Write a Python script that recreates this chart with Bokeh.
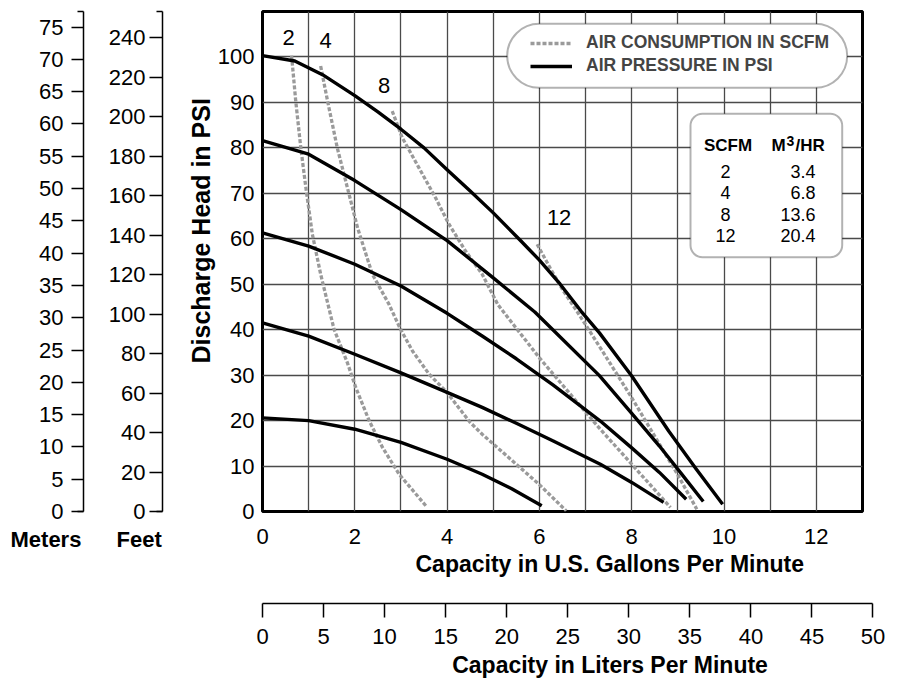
from bokeh.plotting import figure
from bokeh.models import (Range1d, FixedTicker, Label, BoxAnnotation, Legend, LegendItem, Title)
from bokeh.layouts import column, row
from bokeh.embed import file_html
from bokeh.resources import INLINE

# ---------------- data ----------------
gpm_ticks = [0, 2, 4, 6, 8, 10, 12]
gpm_grid = list(range(0, 14))
psi_ticks = list(range(0, 101, 10))
psi_grid = list(range(0, 111, 10))
feet_ticks = list(range(0, 241, 20))
meter_ticks = list(range(0, 76, 5))
lpm_ticks = list(range(0, 51, 5))

# air pressure curves (PSI) : capacity GPM -> discharge head PSI
psi100_x = [0, 0.7, 1.3, 2.0, 2.5, 3.0, 3.5, 4.0, 4.5, 5.0, 5.6, 6.0, 6.45, 6.9, 7.3, 8.0, 8.8, 9.4, 9.97]
psi100_y = [100.3, 99.1, 96.1, 91.5, 87.9, 84.1, 80.0, 75.2, 70.5, 65.7, 59.5, 55.3, 50.0, 44.1, 39.3, 29.8, 17.7, 9.3, 1.6]
psi80_x = [0, 1, 2, 3, 4, 5, 5.9, 7.3, 8.0, 8.6, 9.1, 9.55]
psi80_y = [81.6, 78.6, 72.8, 66.4, 59.6, 51.4, 43.9, 29.9, 21.6, 14.4, 8.0, 2.2]
psi60_x = [0, 1, 2, 3, 4, 4.76, 5.5, 6.3, 7.32, 8.0, 8.6, 9.18]
psi60_y = [61.3, 58.4, 54.4, 49.6, 43.6, 38.6, 33.6, 27.8, 19.9, 14.0, 8.6, 2.7]
psi40_x = [0, 1, 2, 3, 4, 4.76, 5.5, 6.3, 7.32, 8.0, 8.69]
psi40_y = [41.5, 38.6, 34.6, 30.5, 26.2, 22.9, 19.4, 15.5, 10.4, 6.4, 2.0]
psi20_x = [0, 1, 2, 3, 4, 4.76, 5.4, 6.05]
psi20_y = [20.6, 20.0, 18.1, 15.2, 11.5, 8.2, 5.0, 1.25]

# air consumption curves (SCFM)
scfm2_x = [0.63, 0.72, 0.83, 0.94, 1.08, 1.26, 1.55, 1.84, 2.02, 2.31, 2.6, 2.96, 3.54]
scfm2_y = [100.3, 90.3, 80.0, 71.2, 61.0, 52.2, 40.1, 32.7, 27.3, 20.0, 14.1, 8.2, 1.25]
scfm4_x = [1.26, 1.41, 1.62, 1.84, 2.06, 2.38, 2.74, 2.99, 3.25, 3.61, 3.97, 4.5, 4.76, 5.99, 6.58]
scfm4_y = [98.0, 90.3, 80.0, 71.2, 62.4, 52.2, 45.6, 40.1, 35.3, 30.2, 26.5, 19.6, 17.0, 6.0, 0.15]
scfm8_x = [2.81, 3.03, 3.39, 3.75, 4.04, 4.4, 4.76, 5.1, 6.0, 6.98, 7.32, 8.0, 8.84]
scfm8_y = [88.1, 82.2, 75.6, 69.0, 63.2, 57.3, 52.2, 45.5, 33.8, 22.1, 18.1, 10.4, 0.9]
scfm12_x = [5.95, 6.23, 6.52, 6.81, 7.32, 7.99, 8.99, 9.41]
scfm12_y = [58.8, 53.6, 48.5, 44.1, 36.0, 25.2, 8.2, 0.5]

scfm_levels = [2, 4, 8, 12]
m3hr_values = [3.4, 6.8, 13.6, 20.4]

legend_labels = ["AIR CONSUMPTION IN SCFM", "AIR PRESSURE IN PSI"]

# ---------------- style ----------------
FONT = "Liberation Sans"
GREY = "#9a9a9a"
GRID = "#4a4a4a"
TICK_PX = "22px"
FT_TOP = 253.4      # 110 psi expressed in feet
M_TOP = 77.4        # 110 psi expressed in meters

common = dict(output_backend="svg", toolbar_location=None, min_border_top=11, min_border_bottom=79)


def style_axis(ax, tick_out, standoff, line=True):
    ax.axis_line_color = "black" if line else None
    ax.axis_line_width = 1.5
    ax.major_tick_out = tick_out
    ax.major_tick_in = 0
    ax.minor_tick_in = 0
    ax.minor_tick_out = 6
    ax.major_tick_line_width = 1.5
    ax.minor_tick_line_width = 1.5
    ax.major_label_standoff = standoff
    ax.major_label_text_font = FONT
    ax.major_label_text_font_size = TICK_PX
    ax.major_label_text_color = "black"


def side_title(text, offset, standoff, size="22px", valign="top"):
    return Title(text=text, align="left", offset=offset, vertical_align=valign,
                 standoff=standoff, text_font=FONT, text_font_size=size,
                 text_font_style="bold", text_color="black")


def scale_fig(width, border_left, top, ticks, tick_out, standoff, name, offset):
    f = figure(width=width, height=590, x_range=Range1d(0, 1), y_range=Range1d(0, top),
               x_axis_location=None, min_border_left=border_left, min_border_right=0, **common)
    f.outline_line_color = None
    f.grid.visible = False
    ax = f.yaxis[0]
    ax.ticker = FixedTicker(ticks=ticks, minor_ticks=[0, top])
    style_axis(ax, tick_out, standoff)
    f.add_layout(side_title(name, offset, 30), "below")
    return f


figM = scale_fig(100, 83, M_TOP, meter_ticks, 12, 8, "Meters", -73)
figF = scale_fig(70, 62, FT_TOP, feet_ticks, 13, 4, "Feet", -46)

# ---------------- main chart ----------------
p = figure(width=725, height=590, x_range=Range1d(0, 13), y_range=Range1d(0, 110),
           min_border_left=92, min_border_right=33, **common)
p.outline_line_color = "black"
p.outline_line_width = 3
p.xgrid.ticker = FixedTicker(ticks=gpm_grid)
p.ygrid.ticker = FixedTicker(ticks=psi_grid)
for g in (p.xgrid, p.ygrid):
    g.grid_line_color = GRID
    g.grid_line_width = 1.3

xa = p.xaxis[0]
xa.ticker = FixedTicker(ticks=gpm_ticks)
style_axis(xa, 0, 17, line=False)
ya = p.yaxis[0]
ya.ticker = FixedTicker(ticks=psi_ticks)
style_axis(ya, 0, 8, line=False)

p.add_layout(Title(text="Discharge Head in PSI", align="left", offset=148, vertical_align="bottom",
                   standoff=0, text_font=FONT, text_font_size="25px", text_font_style="bold",
                   text_color="black"), "left")
p.add_layout(side_title("Capacity in U.S. Gallons Per Minute", 153, 8, "23px"), "below")

psi_curves = [(psi100_x, psi100_y), (psi80_x, psi80_y), (psi60_x, psi60_y),
              (psi40_x, psi40_y), (psi20_x, psi20_y)]
air_curves = [(scfm2_x, scfm2_y), (scfm4_x, scfm4_y), (scfm8_x, scfm8_y), (scfm12_x, scfm12_y)]

air_r = [p.line(xs, ys, line_color=GREY, line_width=3.3, line_dash="4 2") for xs, ys in air_curves]
psi_r = [p.line(xs, ys, line_color="black", line_width=3.4, line_join="round") for xs, ys in psi_curves]

label_offsets = {2: (-3, 18), 4: (5, 26), 8: (-8, 26), 12: (22, 27)}
for lvl, (xs, ys) in zip(scfm_levels, air_curves):
    dx, dy = label_offsets[lvl]
    p.add_layout(Label(x=xs[0], y=ys[0], x_offset=dx, y_offset=dy, text=str(lvl),
                       text_align="center", text_baseline="middle", text_font=FONT,
                       text_font_size="22px", text_color="black"))

# legend box
p.add_layout(BoxAnnotation(left=244.7, right=584.7, top=487.7, bottom=423.7,
                           left_units="screen", right_units="screen",
                           top_units="screen", bottom_units="screen",
                           fill_color="white", fill_alpha=1, line_color="black",
                           line_width=2, border_radius=32))
legend = Legend(items=[LegendItem(label=legend_labels[0], renderers=[air_r[0]]),
                       LegendItem(label=legend_labels[1], renderers=[psi_r[0]])],
                location=(268, 434.7), orientation="vertical",
                glyph_width=42, glyph_height=20, label_height=20, label_standoff=14,
                spacing=2, padding=0, margin=0, border_line_color=None,
                background_fill_alpha=0, label_text_font=FONT,
                label_text_font_style="bold", label_text_font_size="17.5px",
                label_text_baseline="middle")
p.add_layout(legend)

# conversion table
p.add_layout(BoxAnnotation(left=428, right=579.7, top=397.7, bottom=254.3,
                           left_units="screen", right_units="screen",
                           top_units="screen", bottom_units="screen",
                           fill_color="white", fill_alpha=1, line_color="black",
                           line_width=2, border_radius=12))
hdr = dict(x_units="screen", y_units="screen", text_baseline="alphabetic",
           text_font=FONT, text_font_style="bold", text_font_size="17px", text_color="black")
p.add_layout(Label(x=465.5, y=366, text="SCFM", text_align="center", **hdr))
p.add_layout(Label(x=509, y=366, text="M", text_align="left", **hdr))
p.add_layout(Label(x=524, y=371, text="3", text_align="left",
                   **{**hdr, "text_font_size": "14px"}))
p.add_layout(Label(x=533, y=366, text="/HR", text_align="left", **hdr))
for i, (s, m3) in enumerate(zip(scfm_levels, m3hr_values)):
    yy = 339.8 - 21.2 * i
    p.add_layout(Label(x=463, y=yy, text=str(s), x_units="screen", y_units="screen",
                       text_align="center", text_baseline="alphabetic", text_font=FONT,
                       text_font_size="18px", text_color="black"))
    p.add_layout(Label(x=553, y=yy, text=f"{m3:.1f}", x_units="screen", y_units="screen",
                       text_align="right", text_baseline="alphabetic", text_font=FONT,
                       text_font_size="18px", text_color="black"))

# ---------------- liters axis ----------------
p2 = figure(width=895, height=95, x_range=Range1d(0, 50.86), y_range=Range1d(0, 1),
            output_backend="svg", toolbar_location=None,
            min_border_left=262, min_border_right=12, min_border_top=9, min_border_bottom=82)
p2.outline_line_color = None
p2.grid.visible = False
p2.yaxis.visible = False
la = p2.xaxis[0]
la.ticker = FixedTicker(ticks=lpm_ticks)
la.bounds = (0, 50)
style_axis(la, 14, 11)
p2.add_layout(side_title("Capacity in Liters Per Minute", 189.7, 7, "23px", "bottom"), "below")

layout = column(row(figM, figF, p), p2)
open("out.html", "w").write(file_html(layout, INLINE))
